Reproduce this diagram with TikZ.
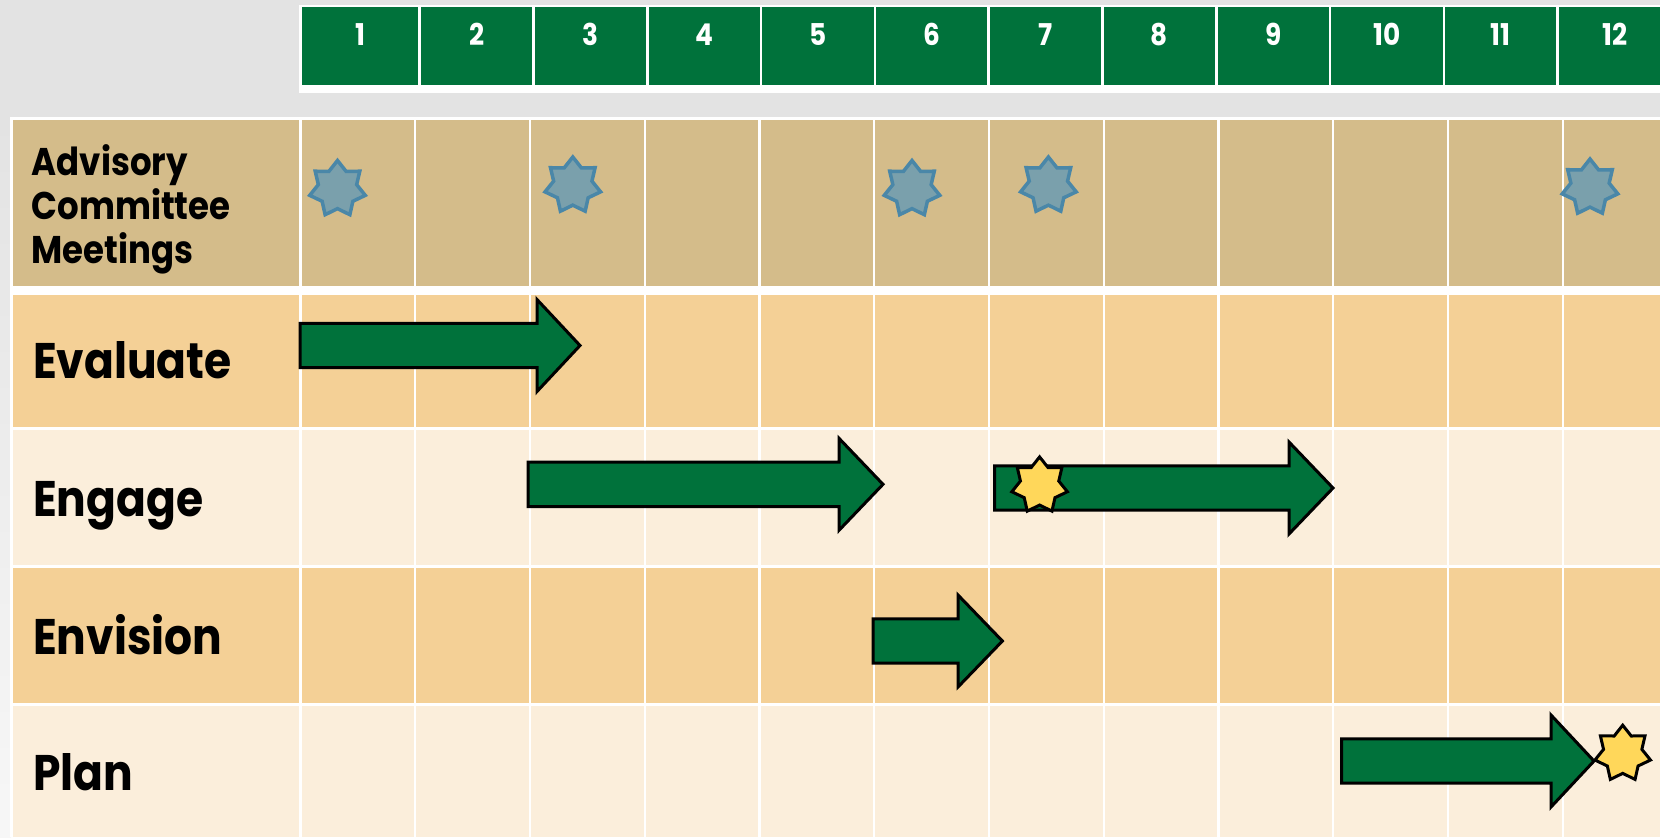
\documentclass[tikz,border=0pt]{standalone}
\usepackage{fontspec}
\setmainfont{Poppins}[FakeStretch=0.88]
\usetikzlibrary{shapes.geometric}
\definecolor{bggray}{HTML}{E3E3E3}
\definecolor{bglight}{HTML}{F7F7F7}
\definecolor{hdrgreen}{HTML}{00723B}
\definecolor{advtan}{HTML}{D4BC8A}
\definecolor{peach}{HTML}{F4D096}
\definecolor{cream}{HTML}{FBEEDB}
\definecolor{starblue}{HTML}{7AA0AC}
\definecolor{starline}{HTML}{4A87A8}
\definecolor{staryellow}{HTML}{FFD75A}
\tikzset{
  hdrnum/.style={text=white, font=\fontsize{15}{18}\selectfont\bfseries, inner sep=0pt},
  rowlabel/.style={font=\fontsize{25}{30}\selectfont\bfseries, inner sep=0pt, anchor=base west},
  advlabel/.style={font=\fontsize{19.3}{22}\selectfont\bfseries, inner sep=0pt, anchor=base west},
  starbase/.style={star, star points=7, star point ratio=1.45, minimum size=28.5pt, inner sep=0pt},
  bluestar/.style={starbase, fill=starblue, draw=starline, line width=1.75pt},
  yellowstar/.style={starbase, fill=staryellow, draw=black, line width=1.5pt},
  blockarrow/.style={fill=hdrgreen, draw=black, line width=1.5pt, line join=miter},
  gridline/.style={draw=white, line width=1.2pt},
  hdrline/.style={draw=white, line width=1.35pt},
}
% name, left, head base, tip, centre y
\newcommand\greenarrow[5]{%
  \draw[blockarrow] (#2,#5-22.2) -- (#3,#5-22.2) -- (#3,#5-46) -- (#4,#5)
    -- (#3,#5+46) -- (#3,#5+22.2) -- (#2,#5+22.2) -- cycle;
  \coordinate (#1) at (#4,#5);}
\begin{document}
\begin{tikzpicture}[x=0.5pt, y=-0.5pt]
\useasboundingbox (0,0) rectangle (1660,837);
% background
\fill[bggray] (0,0) rectangle (1660,837);
\shade[top color=bggray, bottom color=bglight] (0,117) rectangle (11,837);
% header
\fill[white] (299.3,5) rectangle (1660,92.7);
\fill[hdrgreen] (302,7.3) rectangle (1660,85);
\foreach \k in {1,...,11} {
  \draw[hdrline] ({419.7+113.8*(\k-1)},7.3) -- ({419.7+113.8*(\k-1)},85);
}
\node[hdrnum] (h1) at (360,34.5) {1};
\foreach \k in {2,...,12} {
  \node[hdrnum] (h\k) at ({419.7+113.8*(\k-1.5)},34.5) {\k};
}
% table
\fill[white] (10.3,117) rectangle (1660,837);
\fill[advtan] (13,120) rectangle (1660,286);
\fill[peach] (13,295) rectangle (1660,427);
\fill[cream] (13,430) rectangle (1660,564.5);
\fill[peach] (13,567.5) rectangle (1660,702.5);
\fill[cream] (13,705.5) rectangle (1660,837);
\foreach \k in {0,...,11} {
  \draw[gridline] ({300.5+114.75*\k},117) -- ({300.5+114.75*\k},837);
}
% row labels
\node[advlabel] (adv1) at (31.3,175) {Advisory};
\node[advlabel] (adv2) at (31.3,219) {Committee};
\node[advlabel] (adv3) at (31.3,263.3) {Meetings};
\node[rowlabel] (evaluate) at (32.7,378.3) {Evaluate};
\node[rowlabel] (engage) at (32.7,516) {Engage};
\node[rowlabel] (envision) at (32.7,654.3) {Envision};
\node[rowlabel] (plan) at (32.7,790) {Plan};
% meeting stars
\node[bluestar] (m1) at (337.5,189) {};
\node[bluestar] (m2) at (572.8,185.5) {};
\node[bluestar] (m3) at (912,189) {};
\node[bluestar] (m4) at (1048.4,185.5) {};
\node[bluestar] (m5) at (1590,187.5) {};
% arrows
\greenarrow{aeval}{300}{537}{580}{345.5}
\greenarrow{aeng1}{528}{839}{883}{484.3}
\greenarrow{aeng2}{994.6}{1289}{1333}{488}
\greenarrow{aenv}{873.2}{958}{1002.4}{641}
\greenarrow{aplan}{1341.7}{1551}{1594}{761}
% milestone stars
\node[yellowstar] (y1) at (1039.6,485.4) {};
\node[yellowstar] (y2) at (1622.7,753.7) {};
\end{tikzpicture}
\end{document}
